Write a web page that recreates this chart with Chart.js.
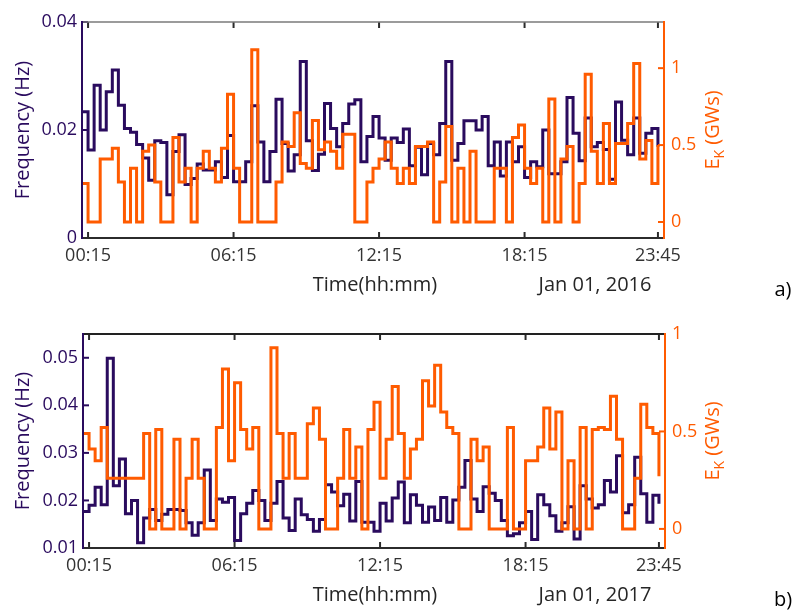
<!DOCTYPE html>
<html>
<head>
<meta charset="utf-8">
<script src="https://cdn.jsdelivr.net/npm/chart.js@4.4.1/dist/chart.umd.min.js"></script>
<style>
	html, body { margin: 0; padding: 0; background: #fff; }
	#wrap { position: relative; width: 798px; height: 611px; }
	canvas { position: absolute; left: 0; }
	#chart-a { top: 0; }
	#chart-b { top: 305px; }
</style>
</head>
<body>
<div id="wrap">
	<canvas id="chart-a" width="798" height="305" style="width:798px;height:305px"></canvas>
	<canvas id="chart-b" width="798" height="306" style="width:798px;height:306px"></canvas>
</div>
<script>
const purple = '#2a0b5e';
const orange = '#ff5b00';

// 15-minute steps, hours from midnight
const tickHours = [0.25, 6.25, 12.25, 18.25, 23.75];
const tickLabels = ['00:15', '06:15', '12:15', '18:15', '23:45'];

const freqTicksA = [0, 0.02, 0.04];
const freqTicksB = [0.01, 0.02, 0.03, 0.04, 0.05];
const energyTicks = [0, 0.5, 1];

// a) Jan 01, 2016
const freqA = [
	0.0234, 0.0163, 0.0283, 0.0200, 0.0271, 0.0311, 0.0246, 0.0203, 0.0196, 0.0173, 0.0148, 0.0107, 0.0180, 0.0177, 0.0080, 0.0160,
	0.0191, 0.0099, 0.0110, 0.0137, 0.0126, 0.0126, 0.0141, 0.0112, 0.0190, 0.0104, 0.0104, 0.0141, 0.0245, 0.0178, 0.0104, 0.0160,
	0.0257, 0.0175, 0.0124, 0.0154, 0.0327, 0.0180, 0.0125, 0.0155, 0.0249, 0.0203, 0.0169, 0.0212, 0.0248, 0.0256, 0.0141, 0.0188,
	0.0225, 0.0185, 0.0144, 0.0185, 0.0177, 0.0202, 0.0134, 0.0168, 0.0117, 0.0175, 0.0154, 0.0212, 0.0327, 0.0144, 0.0175, 0.0217,
	0.0217, 0.0200, 0.0225, 0.0134, 0.0178, 0.0115, 0.0178, 0.0141, 0.0169, 0.0112, 0.0141, 0.0132, 0.0200, 0.0119, 0.0119, 0.0141,
	0.0260, 0.0194, 0.0143, 0.0222, 0.0169, 0.0177, 0.0164, 0.0109, 0.0252, 0.0181, 0.0154, 0.0222, 0.0157, 0.0194, 0.0203, 0.0169
];
const energyA = [
	0.25, 0, 0, 0.41, 0.41, 0.48, 0.26, 0, 0.35, 0, 0.46, 0.50, 0.26, 0, 0, 0.55,
	0.26, 0.35, 0, 0.35, 0.46, 0.35, 0.26, 0.48, 0.83, 0.35, 0, 0, 1.12, 0, 0, 0,
	0.26, 0.52, 0.49, 0.71, 0.38, 0.35, 0.66, 0.47, 0.52, 0.46, 0.35, 0.57, 0.57, 0, 0, 0.26,
	0.35, 0.41, 0.52, 0.35, 0.25, 0.35, 0.25, 0.49, 0.49, 0.52, 0, 0.26, 0.62, 0, 0.35, 0,
	0.46, 0, 0, 0, 0.35, 0.35, 0, 0.55, 0.63, 0.35, 0.25, 0.35, 0, 0.80, 0, 0.41,
	0.49, 0, 0.25, 0.96, 0.46, 0.25, 0.64, 0.25, 0.51, 0.51, 0.64, 1.03, 0.41, 0.53, 0.25, 0.50
];

// b) Jan 01, 2017
const freqB = [
	0.0177, 0.0190, 0.0228, 0.0191, 0.0499, 0.0231, 0.0287, 0.0172, 0.0200, 0.0111, 0.0163, 0.0181, 0.0158, 0.0171, 0.0181, 0.0181,
	0.0179, 0.0153, 0.0127, 0.0153, 0.0264, 0.0158, 0.0203, 0.0196, 0.0206, 0.0116, 0.0172, 0.0194, 0.0221, 0.0200, 0.0158, 0.0194,
	0.0240, 0.0163, 0.0137, 0.0203, 0.0170, 0.0160, 0.0135, 0.0160, 0.0233, 0.0218, 0.0189, 0.0213, 0.0157, 0.0240, 0.0154, 0.0154,
	0.0135, 0.0194, 0.0157, 0.0205, 0.0239, 0.0153, 0.0212, 0.0190, 0.0154, 0.0186, 0.0158, 0.0206, 0.0154, 0.0201, 0.0228, 0.0284,
	0.0203, 0.0177, 0.0229, 0.0215, 0.0200, 0.0158, 0.0126, 0.0130, 0.0153, 0.0177, 0.0118, 0.0212, 0.0191, 0.0168, 0.0135, 0.0153,
	0.0187, 0.0119, 0.0231, 0.0203, 0.0184, 0.0191, 0.0242, 0.0218, 0.0294, 0.0174, 0.0191, 0.0291, 0.0214, 0.0154, 0.0211, 0.0193
];
const energyB = [
	0.49, 0.41, 0.35, 0.52, 0.26, 0.26, 0.26, 0.26, 0.26, 0.26, 0.49, 0, 0.51, 0, 0, 0.46,
	0, 0.26, 0.46, 0.26, 0, 0, 0.52, 0.82, 0.35, 0.75, 0.51, 0.41, 0.52, 0, 0, 0.93,
	0.49, 0.26, 0.49, 0.26, 0.26, 0.54, 0.62, 0.46, 0, 0, 0.26, 0.51, 0.26, 0.42, 0, 0.51,
	0.65, 0.26, 0.46, 0.73, 0.49, 0.26, 0.41, 0.46, 0.76, 0.63, 0.84, 0.60, 0.52, 0.49, 0, 0,
	0.46, 0.35, 0.42, 0, 0, 0, 0.52, 0, 0, 0.35, 0.35, 0.42, 0.62, 0.41, 0.60, 0,
	0.35, 0, 0.52, 0, 0.51, 0.52, 0.51, 0.68, 0.46, 0, 0, 0.26, 0.64, 0.52, 0.49, 0.27
];

const tickFont = { family: 'Open Sans', size: 18 };
const titleFont = '20px "Open Sans"';

function strokeLine(ctx, x1, y1, x2, y2) {
	ctx.beginPath();
	ctx.moveTo(x1, y1);
	ctx.lineTo(x2, y2);
	ctx.stroke();
}

// box, inward tick marks and the text around each panel
const framePlugin = {
	id: 'frame',
	afterDraw(chart, args, opts) {
		const { ctx, chartArea, scales } = chart;
		const { left, right, top, bottom } = chartArea;
		const midY = (top + bottom) / 2;

		ctx.save();
		ctx.lineCap = 'butt';

		ctx.lineWidth = 2;
		ctx.strokeStyle = '#2b2b2b';
		scales.x.ticks.forEach((t) => {
			const px = scales.x.getPixelForValue(t.value);
			strokeLine(ctx, px, bottom, px, bottom - 6);
			strokeLine(ctx, px, top, px, top + 6);
		});

		ctx.strokeStyle = purple;
		scales.yLeft.ticks.forEach((t) => {
			const py = scales.yLeft.getPixelForValue(t.value);
			strokeLine(ctx, left, py, left + 6, py);
		});

		ctx.strokeStyle = orange;
		scales.yRight.ticks.forEach((t) => {
			const py = scales.yRight.getPixelForValue(t.value);
			strokeLine(ctx, right, py, right - 6, py);
		});

		ctx.strokeStyle = opts.topColor;
		ctx.lineWidth = opts.topWidth;
		strokeLine(ctx, left, top, right, top);
		ctx.lineWidth = 2;
		ctx.strokeStyle = '#2b2b2b';
		strokeLine(ctx, left, bottom, right, bottom);
		ctx.strokeStyle = purple;
		strokeLine(ctx, left, top - 1, left, bottom + 1);
		ctx.strokeStyle = orange;
		strokeLine(ctx, right, top - 1, right, bottom + 1);

		// axis titles
		ctx.textBaseline = 'middle';
		ctx.textAlign = 'center';
		ctx.font = titleFont;

		ctx.save();
		ctx.translate(23, midY);
		ctx.rotate(-Math.PI / 2);
		ctx.fillStyle = purple;
		ctx.fillText('Frequency (Hz)', 0, 0);
		ctx.restore();

		ctx.save();
		ctx.translate(713, midY);
		ctx.rotate(-Math.PI / 2);
		ctx.fillStyle = orange;
		ctx.textAlign = 'left';
		const rest = ' (GWs)';
		ctx.font = titleFont;
		const wE = ctx.measureText('E').width;
		const wR = ctx.measureText(rest).width;
		ctx.font = '14px "Open Sans"';
		const wK = ctx.measureText('K').width;
		const x0 = -(wE + wK + wR) / 2;
		ctx.font = titleFont;
		ctx.fillText('E', x0, 0);
		ctx.font = '14px "Open Sans"';
		ctx.fillText('K', x0 + wE, 7);
		ctx.font = titleFont;
		ctx.fillText(rest, x0 + wE + wK, 0);
		ctx.restore();

		ctx.fillStyle = '#262626';
		ctx.fillText('Time(hh:mm)', 375, bottom + 47);
		ctx.fillText(opts.date, 595, bottom + 47);
		ctx.fillStyle = '#000';
		ctx.fillText(opts.letter, 783, bottom + 52);

		ctx.restore();
	}
};

function buildPanel(canvasId, freq, energy, panel) {
	const freqPoints = freq.map((v, i) => ({ x: i * 0.25, y: v }));
	const energyPoints = energy.map((v, i) => ({ x: i * 0.25, y: v }));

	return new Chart(
		document.getElementById(canvasId),
		{
			type: 'line',
			data: {
				datasets: [
					{
						label: 'E_K',
						data: energyPoints,
						yAxisID: 'yRight',
						borderColor: orange,
						order: 0,
					},
					{
						label: 'Frequency',
						data: freqPoints,
						yAxisID: 'yLeft',
						borderColor: purple,
						order: 1,
					}
				]
			},
			options: {
				responsive: false,
				animation: false,
				devicePixelRatio: 1,
				layout: {
					padding: { top: panel.top, left: 0, right: 0, bottom: 0 },
				},
				elements: {
					point: { radius: 0 },
					line: {
						stepped: true,
						borderWidth: 3,
						tension: 0,
						fill: false,
						borderJoinStyle: 'miter',
						borderCapStyle: 'butt',
					},
				},
				plugins: {
					legend: { display: false },
					tooltip: { enabled: false },
					frame: panel.frame,
				},
				scales: {
					x: {
						type: 'linear',
						min: 0,
						max: 24,
						grid: { display: false, drawTicks: false },
						border: { display: false },
						afterBuildTicks: (scale) => {
							scale.ticks = tickHours.map((h) => ({ value: h }));
						},
						afterFit: (scale) => {
							scale.height = panel.xHeight;
						},
						ticks: {
							autoSkip: false,
							maxRotation: 0,
							padding: 7,
							color: '#333',
							font: tickFont,
							callback: (value) => tickLabels[tickHours.indexOf(value)],
						},
					},
					yLeft: {
						type: 'linear',
						position: 'left',
						min: panel.freqMin,
						max: panel.freqMax,
						grid: { display: false, drawTicks: false },
						border: { display: false },
						afterBuildTicks: (scale) => {
							scale.ticks = panel.freqTicks.map((v) => ({ value: v }));
						},
						afterFit: (scale) => {
							scale.width = panel.leftWidth;
						},
						ticks: {
							padding: 5,
							color: purple,
							font: tickFont,
							callback: (value) => (value === 0 ? '0' : value.toFixed(2)),
						},
					},
					yRight: {
						type: 'linear',
						position: 'right',
						min: panel.energyMin,
						max: panel.energyMax,
						grid: { display: false, drawTicks: false },
						border: { display: false },
						afterBuildTicks: (scale) => {
							scale.ticks = energyTicks.map((v) => ({ value: v }));
						},
						afterFit: (scale) => {
							scale.width = 798 - panel.rightEdge;
						},
						ticks: {
							padding: 7,
							color: orange,
							font: tickFont,
							callback: (value) => String(value),
						},
					},
				},
			},
			plugins: [framePlugin]
		}
	);
}

buildPanel('chart-a', freqA, energyA, {
	top: 22,
	xHeight: 67,
	leftWidth: 82,
	rightEdge: 664,
	freqMin: 0,
	freqMax: 0.04,
	freqTicks: freqTicksA,
	energyMin: -0.104,
	energyMax: 1.3,
	frame: { date: 'Jan 01, 2016', letter: 'a)', topColor: '#7a7a7a', topWidth: 1.5 },
});

buildPanel('chart-b', freqB, energyB, {
	top: 29,
	xHeight: 63,
	leftWidth: 83,
	rightEdge: 665,
	freqMin: 0.01,
	freqMax: 0.055,
	freqTicks: freqTicksB,
	energyMin: -0.098,
	energyMax: 1.0,
	frame: { date: 'Jan 01, 2017', letter: 'b)', topColor: '#222', topWidth: 2 },
});
</script>
</body>
</html>
